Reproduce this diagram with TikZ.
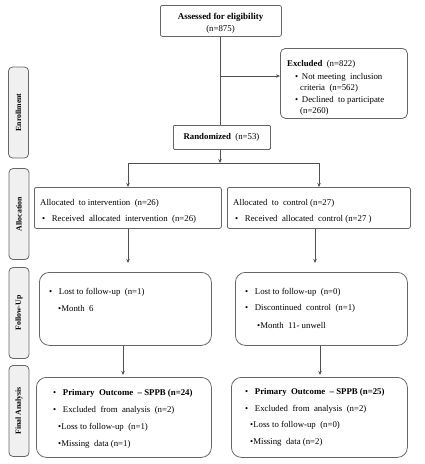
\documentclass[tikz,border=0pt]{standalone}
\usepackage{fontspec}
\setmainfont{Liberation Serif}
\usetikzlibrary{arrows.meta}
\definecolor{boxline}{HTML}{666666}
\definecolor{conline}{HTML}{505050}
\definecolor{sidefill}{HTML}{F0F0F0}
\begin{document}
\begin{tikzpicture}[x=1pt,y=-1pt,
  box/.style={draw=boxline,line width=0.8pt,inner sep=0pt,anchor=north west},
  side/.style={draw=boxline,line width=0.8pt,fill=sidefill,rounded corners=4pt,rotate=90,
    minimum width=91pt,minimum height=20pt,inner sep=0pt,font=\fontsize{7.8}{9}\selectfont\bfseries},
  txt/.style={anchor=west,inner sep=0pt,font=\fontsize{8.8}{10}\selectfont},
  ctxt/.style={inner sep=0pt,font=\fontsize{8.8}{10}\selectfont},
  con/.style={draw=conline,line width=0.7pt},
  arr/.style={con,-{Stealth[length=4pt,width=3.5pt]}}]
\useasboundingbox (0,0) rectangle (425,464);
% boxes
\node[box,rounded corners=2pt,minimum width=121pt,minimum height=31pt] (assess) at (160,5) {};
\node[box,rounded corners=5pt,minimum width=127pt,minimum height=70pt] (excl) at (280,48) {};
\node[box,rounded corners=1pt,minimum width=97pt,minimum height=24pt] (rand) at (173,125) {};
\node[box,rounded corners=2pt,minimum width=187pt,minimum height=41pt] (allocL) at (34,187) {};
\node[box,rounded corners=2pt,minimum width=183pt,minimum height=41pt] (allocR) at (227,187) {};
\node[box,rounded corners=10pt,minimum width=172pt,minimum height=73pt] (fuL) at (39,272) {};
\node[box,rounded corners=10pt,minimum width=172pt,minimum height=73pt] (fuR) at (235,272) {};
\node[box,rounded corners=10pt,minimum width=175pt,minimum height=80pt] (faL) at (36,377) {};
\node[box,rounded corners=10pt,minimum width=176pt,minimum height=80pt] (faR) at (231,377) {};
% side labels
\node[side] (sEnr) at (18.5,112.5) {Enrollment};
\node[side] (sAll) at (19,214) {Allocation};
\node[side] (sFol) at (19,313) {Follow-Up};
\node[side] (sFin) at (19,411) {Final Analysis};
% texts
\node[ctxt,font=\fontsize{9}{10}\selectfont\bfseries] (a1) at (220.5,17) {Assessed for eligibility};
\node[ctxt] (a2) at (220.5,29) {(n=875)};
\node[txt] (e1) at (287,64) {\textbf{Excluded}\ \ (n=822)};
\node[txt] (e2) at (295,77) {•\ \,Not meeting\ \ inclusion};
\node[txt] (e3) at (300,88.5) {criteria\ \ (n=562)};
\node[txt] (e4) at (295,100) {•\ \,Declined\ \ to participate};
\node[txt] (e5) at (300,111.5) {(n=260)};
\node[ctxt] (r1) at (221.5,137) {\textbf{Randomized}\ \ (n=53)};
\node[txt] (l1) at (40,203) {Allocated\ \ to intervention\ \ (n=26)};
\node[txt] (l2) at (42,219) {•\ \ \ Received\ \ allocated\ \ intervention\ \ (n=26)};
\node[txt] (c1) at (233,203) {Allocated\ \ to\ \ control (n=27)};
\node[txt] (c2) at (235,219) {•\ \ \ Received\ \ allocated\ \ control (n=27 )};
\node[txt] (f1) at (49,292) {•\ \ \ Lost to follow-up\ \ (n=1)};
\node[txt] (f2) at (58,308) {•Month\ \ 6};
\node[txt] (g1) at (245,292) {•\ \ \ Lost to follow-up\ \ (n=0)};
\node[txt] (g2) at (245,308) {•\ \ \ Discontinued\ \ control\ \ (n=1)};
\node[txt] (g3) at (257,325) {•Month\ \ 11- unwell};
\node[txt] (p1) at (53,393) {•\ \ \ \textbf{Primary\ \ Outcome\ \ – SPPB (n=24)}};
\node[txt] (p2) at (53,410) {•\ \ \ Excluded\ \ from\ \ analysis\ \ (n=2)};
\node[txt] (p3) at (58,427) {•Loss to follow-up\ \ (n=1)};
\node[txt] (p4) at (58,444) {•Missing\ \ data (n=1)};
\node[txt] (q1) at (245,392) {•\ \ \ \textbf{Primary\ \ Outcome\ \ – SPPB (n=25)}};
\node[txt] (q2) at (245,409) {•\ \ \ Excluded\ \ from\ \ analysis\ \ (n=2)};
\node[txt] (q3) at (250,425) {•Loss to follow-up\ \ (n=0)};
\node[txt] (q4) at (250,442) {•Missing\ \ data (n=2)};
% connectors
\coordinate (br) at (220,76);
\coordinate (jc) at (220,163);
\coordinate (jl) at (128,163);
\coordinate (jr) at (319,163);
\coordinate (fuLt) at (128,263);
\coordinate (fuRt) at (315,263);
\coordinate (faLt) at (123,375);
\coordinate (faRt) at (320,375);
\draw[con] (assess.south -| br) -- (rand.north -| br);
\draw[arr] (br) -- (excl.west |- br);
\draw[arr] (rand.south -| jc) -- (jc);
\draw[con] (jl) -- (jr);
\draw[arr] (jl) -- (allocL.north -| jl);
\draw[arr] (jr) -- (allocR.north -| jr);
\draw[arr] (allocL.south -| fuLt) -- (fuLt);
\draw[arr] (allocR.south -| fuRt) -- (fuRt);
\draw[arr] (fuL.south -| faLt) -- (faLt);
\draw[arr] (fuR.south -| faRt) -- (faRt);
\end{tikzpicture}
\end{document}
